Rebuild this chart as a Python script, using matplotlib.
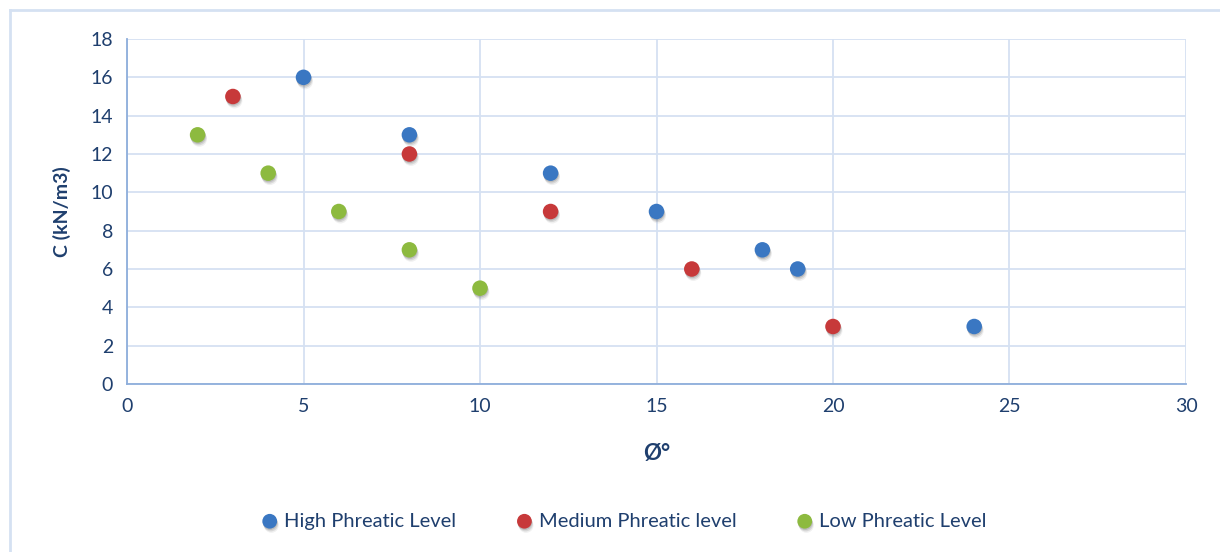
import matplotlib.pyplot as plt
import matplotlib.patheffects as pe
from matplotlib.lines import Line2D

# friction angle (deg) vs cohesion for three phreatic levels
phi_high = [5, 8, 12, 15, 18, 19, 24]
c_high = [16, 13, 11, 9, 7, 6, 3]
phi_med = [3, 8, 12, 16, 20]
c_med = [15, 12, 9, 6, 3]
phi_low = [2, 4, 6, 8, 10]
c_low = [13, 11, 9, 7, 5]

labels = ["High Phreatic Level", "Medium Phreatic level", "Low Phreatic Level"]
colors = ["#3a77c2", "#c7393a", "#8dba3f"]

plt.rcParams['font.family'] = ['Lato', 'DejaVu Sans']
txt = "#1f3f6e"
grid = "#d5e1f2"

fig = plt.figure(figsize=(12.2, 5.52), dpi=100)
ax = fig.add_axes([127/1220, 1-384/552, (1186-127)/1220, (384-39)/552])

# soft drop shadow built from a few stacked offsets
shadow = [pe.SimplePatchShadow(offset=(0.3, -1.0), shadow_rgbFace="#555555", alpha=0.22),
          pe.SimplePatchShadow(offset=(0.8, -2.0), shadow_rgbFace="#666666", alpha=0.18),
          pe.SimplePatchShadow(offset=(1.2, -3.0), shadow_rgbFace="#888888", alpha=0.12),
          pe.Normal()]
series = [(phi_high, c_high), (phi_med, c_med), (phi_low, c_low)]
for (x, y), lab, col in zip(series, labels, colors):
    sc = ax.scatter(x, y, s=125, color=col, label=lab, zorder=3, linewidths=0)
    sc.set_path_effects(shadow)

ax.set_xlim(0, 30)
ax.set_ylim(0, 18)
ax.set_xticks(range(0, 31, 5))
ax.set_yticks(range(0, 19, 2))
ax.grid(True, color=grid, linewidth=1.3)
ax.set_axisbelow(True)
for s in ["top", "right"]:
    ax.spines[s].set_visible(False)
ax.spines["left"].set_color("#8eaedb")
ax.spines["bottom"].set_color("#8eaedb")
ax.spines["left"].set_linewidth(1.3)
ax.spines["bottom"].set_linewidth(1.3)
ax.tick_params(length=0, labelsize=14, labelcolor=txt, pad=10)

ax.set_xlabel("Ø°", fontsize=16, fontweight="bold", color=txt, labelpad=20)
ax.set_ylabel("C (kN/m3)", fontsize=14, fontweight="bold", color=txt, labelpad=14)

leg = fig.legend(loc="center", bbox_to_anchor=(624/1220, 1-521/552), ncol=3,
                 frameon=False, fontsize=14.5, handlelength=0.8, handletextpad=0.3,
                 columnspacing=3.0, markerscale=0.95, labelcolor=txt)

# outer chart frame
fig.add_artist(Line2D([10/1220, 10/1220], [0, 1-10/552], color=grid, lw=2, transform=fig.transFigure))
fig.add_artist(Line2D([10/1220, 1], [1-10/552, 1-10/552], color=grid, lw=2, transform=fig.transFigure))

fig.savefig("out.png", dpi=100)
